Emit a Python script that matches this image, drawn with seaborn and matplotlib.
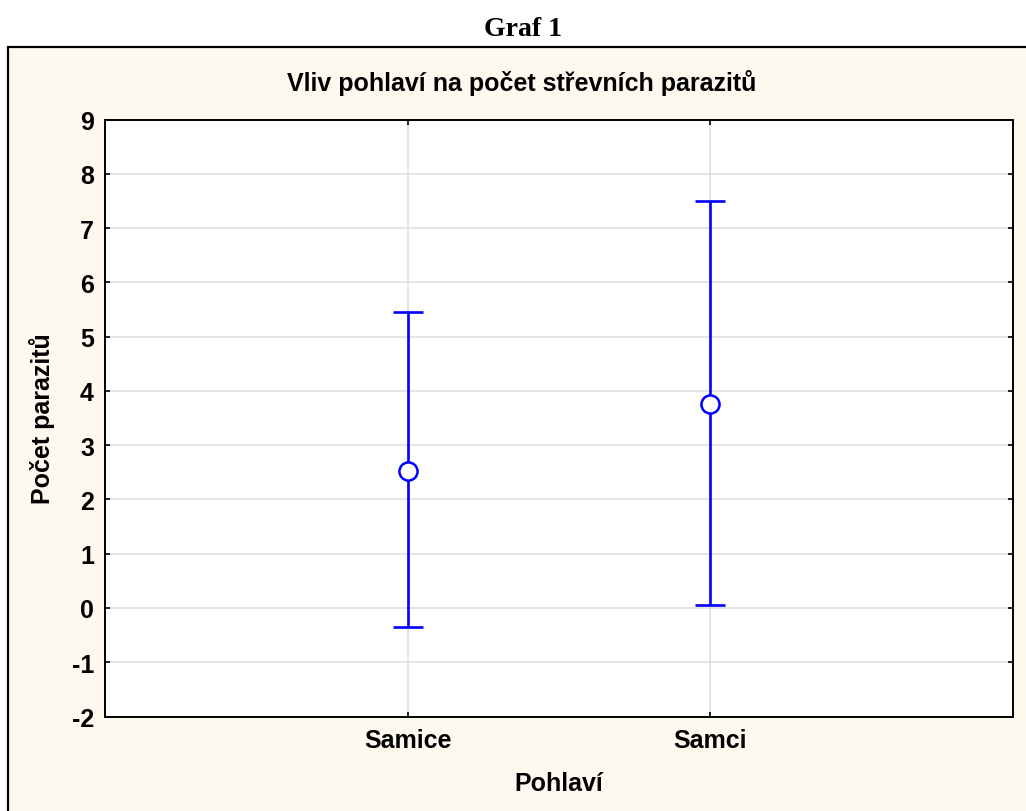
import matplotlib
matplotlib.use('Agg')
import matplotlib.pyplot as plt
import seaborn as sns
import pandas as pd
from matplotlib.patches import Rectangle

# Data
categories = ['Samice', 'Samci']
means = [2.53, 3.76]
upper = [5.45, 7.49]
lower = [-0.36, 0.05]
y_ticks = list(range(-2, 10))

sns.set_theme(style='white')
plt.rcParams['font.family'] = ['Liberation Sans', 'DejaVu Sans']
plt.rcParams['axes.unicode_minus'] = False
for key in ['text.color', 'axes.labelcolor', 'xtick.color', 'ytick.color']:
    plt.rcParams[key] = 'black'

FS = 18
W, H = 1026, 812

fig = plt.figure(figsize=(W / 100, H / 100), dpi=100)
fig.patch.set_facecolor('white')

# beige frame around the chart
frame = Rectangle((8 / W, -0.05), 1.1, 1 - 48 / H + 0.05, transform=fig.transFigure,
                  facecolor='#fef9ee', edgecolor='black', linewidth=1.6, zorder=-10)
fig.patches.append(frame)

fig.text(523 / W, 1 - 30 / H, 'Graf 1', family='Liberation Serif', fontweight='bold',
         fontsize=20, ha='center', va='center')
fig.text(522 / W, 1 - 83 / H, 'Vliv pohlaví na počet střevních parazitů',
         fontweight='bold', fontsize=FS, ha='center', va='center')

ax = fig.add_axes([105 / W, 1 - 717.5 / H, 908 / W, 597 / H])
ax.set_facecolor('white')

df = pd.DataFrame({'Pohlaví': categories, 'mean': means})
yerr = [[m - lo for m, lo in zip(means, lower)], [hi - m for m, hi in zip(means, upper)]]
ax.errorbar(x=range(len(categories)), y=means, yerr=yerr, fmt='none', ecolor='#0000ff',
            elinewidth=1.9, capsize=11, capthick=1.9, zorder=3)
sns.scatterplot(data=df, x='Pohlaví', y='mean', ax=ax, marker='o', s=170,
                facecolor='white', edgecolor='#0000ff', linewidth=1.8, zorder=4)

ax.set_xlim(-1, 2)
ax.set_ylim(-2, 9)
ax.set_yticks(y_ticks)
ax.set_xticks(range(len(categories)))
ax.set_xticklabels(categories)
ax.grid(True, color='#dcdcdc', linewidth=1.1)
ax.set_axisbelow(True)

for s in ax.spines.values():
    s.set_visible(True)
    s.set_color('black')
    s.set_linewidth(1.4)

ax.tick_params(direction='in', length=3.5, width=1.2, color='black',
               top=True, right=True, left=True, bottom=True,
               labelsize=FS, pad=8)
for lbl in ax.get_xticklabels() + ax.get_yticklabels():
    lbl.set_fontweight('bold')

ax.set_xlabel('Pohlaví', fontsize=FS, fontweight='bold')
ax.set_ylabel('Počet parazitů', fontsize=FS, fontweight='bold')
ax.xaxis.set_label_coords(0.5, -0.092)
ax.yaxis.set_label_coords(-0.055, 0.5)

fig.savefig('out.png', dpi=100, facecolor='white')
